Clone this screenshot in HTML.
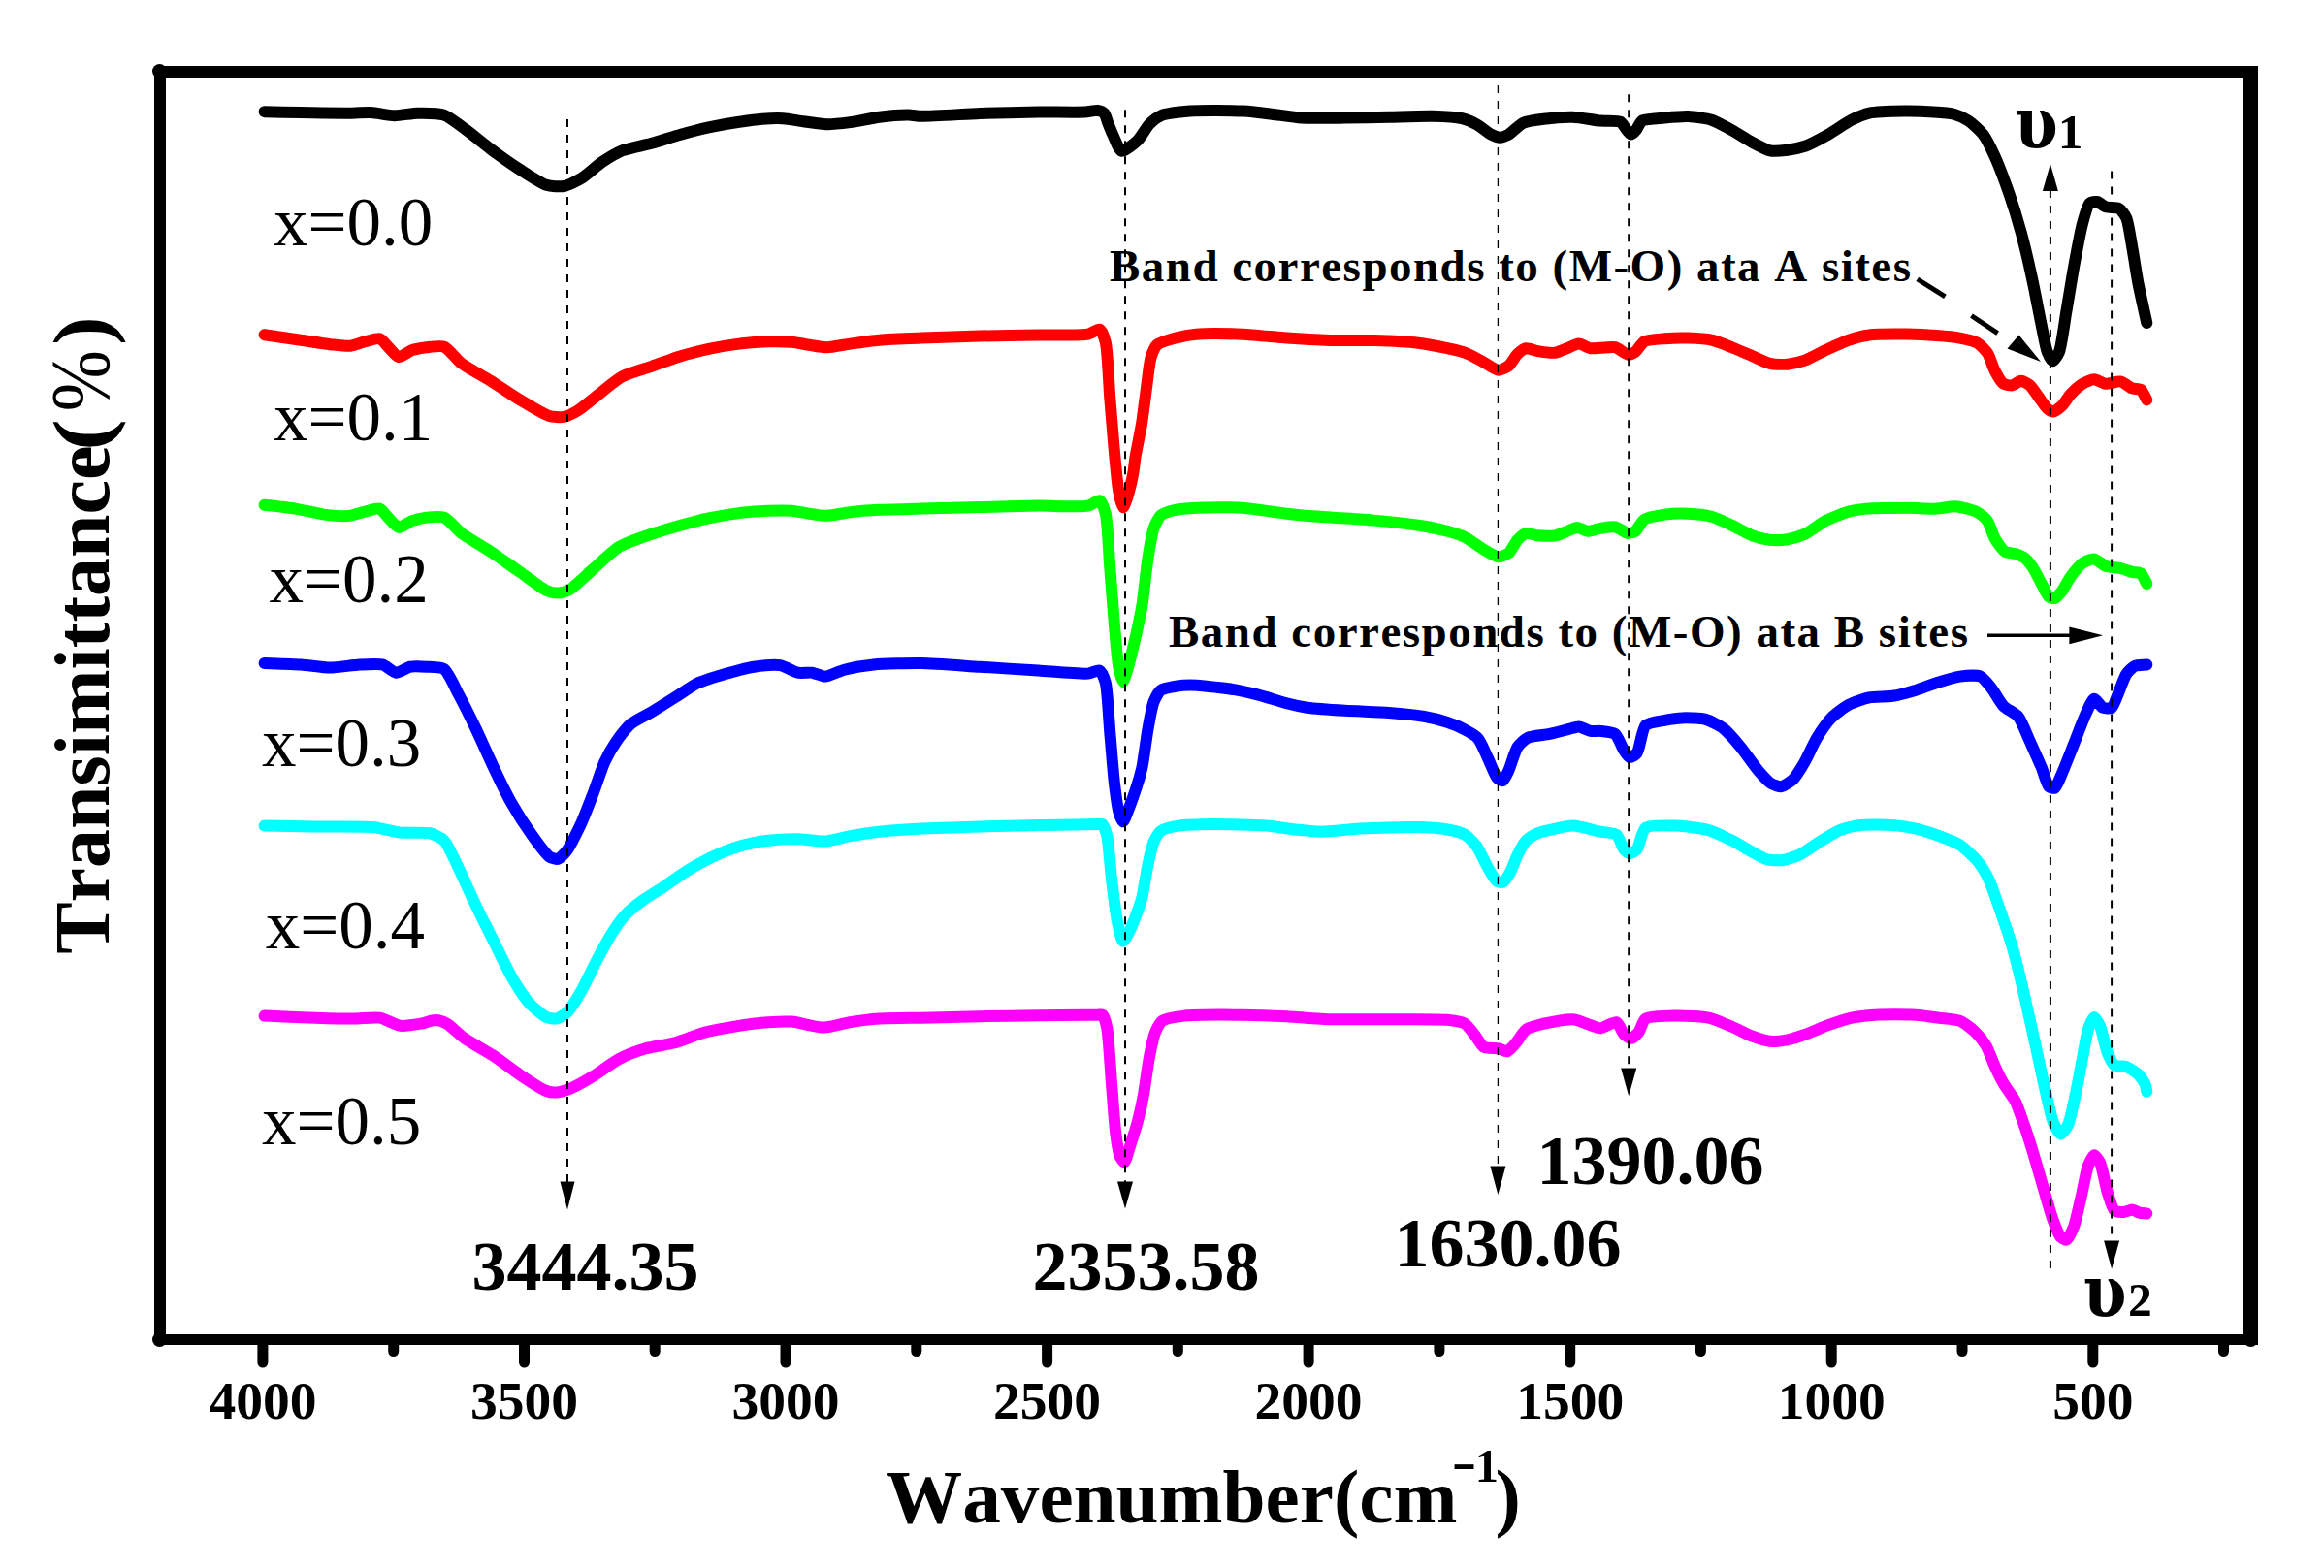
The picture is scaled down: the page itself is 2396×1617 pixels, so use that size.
<!DOCTYPE html>
<html><head><meta charset="utf-8"><title>FTIR</title>
<style>html,body{margin:0;padding:0;background:#fff}svg{display:block}text{font-kerning:none;font-family:"Liberation Serif",serif;fill:#000}.b{font-weight:bold}</style></head><body>
<svg width="2396" height="1617" viewBox="0 0 2396 1617">
<rect width="2396" height="1617" fill="#fff"/>
<g fill="none" stroke-linecap="round" stroke-linejoin="round" stroke-width="12">
<path stroke="#000000" d="M272.6 115.2C280.7 115.4 301.7 115.9 310.2 116.1C319.5 116.3 346.9 116.7 355.4 116.7C362.0 116.7 376.8 115.8 382.5 116.1C387.9 116.4 401.4 119.1 406.6 119.2C411.8 119.3 425.3 116.8 430.7 116.7C436.4 116.6 452.5 116.8 457.8 118.6C462.9 120.3 474.1 129.2 478.9 132.7C484.5 136.7 499.9 149.3 506.0 153.8C512.3 158.5 529.7 170.8 536.1 174.9C542.1 178.7 557.8 189.1 563.3 190.8C567.4 192.1 577.5 192.7 581.3 192.0C585.3 191.3 595.5 186.3 599.4 183.9C604.0 181.1 615.8 170.5 620.5 167.3C625.0 164.3 636.5 157.4 641.6 155.3C647.4 153.0 665.2 149.6 671.7 147.8C678.2 146.0 695.3 140.5 701.8 138.7C708.3 136.9 725.4 132.6 731.9 131.2C738.4 129.8 755.8 126.7 762.0 125.8C767.5 125.0 781.0 123.2 786.1 122.8C790.8 122.4 802.6 121.9 807.2 122.2C811.8 122.5 823.6 124.6 828.3 125.2C833.3 125.9 847.2 128.1 852.4 128.2C857.6 128.3 871.0 126.8 876.5 126.1C882.7 125.3 900.1 121.5 906.6 120.7C913.1 119.9 931.5 118.5 936.7 118.6C940.2 118.6 946.1 119.7 950.0 119.8C958.3 120.0 997.1 117.5 1010.2 117.0C1023.3 116.5 1058.2 115.7 1070.5 115.5C1081.5 115.4 1111.6 115.9 1118.7 115.5C1122.4 115.3 1129.3 113.6 1131.6 113.9C1133.4 114.2 1137.4 115.8 1138.5 117.0C1139.8 118.3 1141.2 124.0 1142.0 126.1C1143.0 128.6 1145.7 135.6 1147.1 138.5C1148.7 142.0 1153.6 155.0 1156.4 155.7C1159.2 156.4 1169.8 147.7 1172.9 144.8C1176.0 141.8 1182.1 131.1 1184.9 128.2C1187.3 125.7 1193.6 120.6 1197.0 119.2C1201.9 117.2 1219.6 115.2 1227.1 114.6C1237.1 113.8 1271.3 114.1 1281.3 114.6C1288.8 115.0 1304.9 116.9 1311.4 117.7C1317.9 118.5 1334.4 121.1 1341.6 121.6C1350.4 122.2 1376.9 121.7 1386.7 121.6C1396.5 121.5 1422.1 120.9 1431.9 120.7C1441.7 120.5 1468.3 119.5 1477.1 119.8C1484.3 120.0 1501.9 121.0 1507.2 122.2C1511.1 123.1 1519.1 126.5 1522.3 128.2C1525.7 130.0 1534.4 137.2 1537.3 138.7C1539.4 139.8 1544.4 141.7 1546.4 141.7C1548.4 141.7 1553.3 139.8 1555.4 138.7C1558.4 137.1 1566.7 128.4 1570.5 126.7C1574.5 124.9 1586.6 123.4 1591.6 122.8C1597.5 122.0 1615.3 120.5 1621.7 120.7C1627.9 120.9 1644.4 124.1 1650.0 124.6C1654.8 125.0 1667.3 124.0 1670.4 125.6C1672.7 126.8 1676.1 133.0 1677.5 134.5C1678.5 135.6 1680.8 138.5 1681.8 138.5C1682.8 138.5 1685.5 135.7 1686.5 134.5C1687.9 132.9 1690.8 126.0 1693.1 124.5C1696.4 122.5 1711.2 122.1 1716.3 121.6C1721.5 121.1 1735.2 119.9 1740.4 120.1C1745.6 120.3 1759.6 122.1 1764.5 123.7C1769.3 125.2 1781.0 131.7 1785.5 134.2C1790.1 136.7 1802.1 144.5 1806.6 146.9C1810.6 149.0 1820.7 154.5 1824.7 155.3C1828.5 156.1 1838.9 155.2 1842.8 154.7C1846.7 154.2 1856.7 152.2 1860.8 150.8C1865.7 149.1 1879.7 141.6 1884.9 138.7C1890.2 135.7 1904.0 126.2 1909.0 123.7C1913.1 121.7 1922.4 117.7 1927.1 116.7C1933.5 115.3 1955.8 114.7 1963.3 114.6C1970.1 114.5 1987.5 115.1 1993.4 115.5C1998.4 115.8 2010.4 116.6 2014.5 117.7C2018.1 118.7 2026.4 122.5 2029.5 124.6C2033.0 126.9 2041.8 135.0 2044.6 138.7C2047.7 142.8 2054.0 155.6 2056.6 161.3C2059.9 168.5 2068.7 192.0 2071.7 200.5C2074.6 208.9 2081.2 230.5 2083.7 239.6C2086.5 249.9 2093.5 280.0 2095.8 290.8C2098.0 300.9 2103.0 327.5 2104.8 336.0C2106.2 342.6 2109.1 358.9 2110.8 363.1C2111.8 365.7 2115.0 372.1 2116.3 372.2C2117.6 372.3 2121.7 366.0 2122.9 363.1C2125.3 357.5 2128.8 330.3 2130.4 321.0C2132.1 311.4 2136.2 285.6 2138.0 275.8C2139.8 266.0 2144.8 238.5 2147.0 230.6C2148.5 225.1 2152.1 211.5 2154.5 209.5C2155.9 208.3 2160.4 207.7 2162.0 208.0C2163.9 208.3 2168.8 212.6 2171.1 213.4C2173.7 214.3 2182.3 213.6 2184.6 214.9C2186.8 216.1 2190.9 221.7 2192.2 224.6C2194.3 229.2 2197.0 247.9 2198.2 254.7C2199.6 262.2 2202.7 282.7 2204.2 290.8C2205.9 299.6 2211.3 323.9 2213.3 333.0"/>
<path stroke="#ff0000" d="M272.6 345.2C280.7 346.4 302.5 349.6 310.2 350.7C317.1 351.7 334.4 354.5 340.4 355.2C345.4 355.7 357.3 357.2 361.4 356.7C365.0 356.3 373.2 353.0 376.5 352.2C379.8 351.4 388.9 348.4 391.6 349.2C394.0 349.9 398.6 356.2 400.6 358.2C402.8 360.3 408.5 367.7 411.1 368.1C413.7 368.5 421.6 362.3 424.7 361.2C427.8 360.1 436.4 358.6 439.8 358.2C443.5 357.8 454.2 356.2 457.8 357.6C462.1 359.2 471.3 371.3 475.9 374.8C481.4 379.0 499.5 388.8 506.0 392.8C512.6 396.9 529.5 408.4 536.1 412.4C542.6 416.3 560.7 427.4 566.3 429.0C570.0 430.1 578.1 430.5 581.3 429.9C584.6 429.3 593.0 425.1 596.4 423.0C600.7 420.4 612.8 410.0 617.5 406.4C622.5 402.5 635.8 391.4 641.6 388.3C647.5 385.1 665.2 380.1 671.7 377.8C678.2 375.5 695.2 369.2 701.8 367.2C708.3 365.3 725.4 361.1 731.9 359.7C738.4 358.3 755.5 355.4 762.0 354.6C768.5 353.8 786.0 352.4 792.2 352.2C797.7 352.1 811.5 352.3 816.3 352.8C820.5 353.2 830.4 355.2 834.3 355.8C838.2 356.4 848.2 358.2 852.4 358.2C857.3 358.2 871.0 355.4 876.5 354.6C882.7 353.7 899.5 351.3 906.6 350.7C915.1 349.9 939.8 349.0 950.0 348.6C962.0 348.1 997.1 346.8 1010.2 346.5C1023.3 346.2 1058.0 345.8 1070.5 345.6C1082.0 345.4 1114.6 346.2 1121.7 344.7C1125.3 343.9 1131.8 338.8 1133.7 339.6C1135.8 340.4 1138.8 349.0 1139.8 353.1C1141.9 361.1 1143.3 398.2 1144.3 410.4C1145.3 422.3 1147.8 453.6 1148.8 464.6C1149.7 474.3 1152.0 499.7 1153.3 506.7C1154.1 511.2 1156.7 523.2 1157.8 523.3C1158.7 523.4 1161.4 515.6 1162.3 512.8C1163.7 508.5 1167.5 492.3 1168.4 487.4C1169.1 483.6 1169.8 475.5 1170.5 471.4C1171.5 465.2 1176.0 443.7 1177.2 436.0C1178.4 428.2 1181.0 407.5 1182.0 400.0C1183.0 393.0 1184.9 374.2 1186.5 369.0C1187.6 365.4 1190.6 357.7 1193.0 355.5C1195.8 353.0 1207.7 349.8 1212.0 348.6C1216.4 347.4 1227.6 345.2 1233.1 344.7C1241.4 343.9 1271.0 344.3 1281.3 344.7C1291.3 345.1 1316.7 347.9 1326.5 348.6C1336.3 349.3 1361.9 350.7 1371.7 351.0C1381.5 351.3 1407.1 350.7 1416.9 351.0C1426.7 351.3 1453.2 352.6 1462.0 353.7C1469.2 354.6 1486.5 358.0 1492.2 359.2C1496.6 360.2 1506.4 362.3 1510.2 363.7C1514.2 365.2 1524.5 370.7 1528.3 372.7C1532.0 374.6 1541.7 381.6 1544.9 381.7C1547.4 381.8 1553.4 378.8 1555.4 377.2C1557.7 375.4 1562.4 367.2 1564.5 365.2C1566.3 363.5 1571.3 359.6 1573.5 359.2C1575.8 358.8 1582.6 361.7 1585.5 362.2C1589.0 362.8 1600.1 364.2 1603.6 363.7C1606.5 363.3 1613.1 360.2 1615.7 359.2C1618.3 358.2 1625.1 354.6 1627.7 354.6C1630.3 354.6 1637.2 358.8 1639.8 359.2C1642.1 359.6 1647.6 358.9 1650.0 358.8C1653.0 358.7 1662.0 357.5 1665.1 358.2C1668.2 358.9 1676.1 365.5 1678.6 365.7C1680.4 365.8 1684.5 363.8 1686.1 362.7C1688.2 361.2 1692.5 353.7 1695.2 352.2C1698.6 350.4 1711.6 349.6 1716.3 349.2C1721.3 348.8 1735.2 348.4 1740.4 348.6C1745.6 348.8 1759.5 349.6 1764.5 350.7C1769.3 351.7 1781.0 356.4 1785.5 358.2C1790.1 360.0 1802.2 365.3 1806.6 367.2C1810.7 368.9 1820.7 373.9 1824.7 374.8C1828.5 375.7 1838.9 376.0 1842.8 375.7C1846.7 375.4 1856.8 373.1 1860.8 371.7C1865.3 370.1 1877.1 363.4 1881.9 361.2C1886.9 358.9 1900.9 352.4 1906.0 350.7C1910.7 349.1 1921.8 346.2 1927.1 345.5C1934.2 344.5 1958.4 344.5 1966.3 344.6C1973.3 344.7 1990.2 345.6 1996.4 346.1C2001.9 346.5 2015.7 347.7 2020.5 348.6C2024.7 349.4 2035.4 351.8 2038.6 353.7C2041.4 355.4 2047.2 361.4 2049.1 364.2C2051.3 367.4 2054.7 378.8 2056.6 382.3C2058.3 385.5 2063.4 394.3 2065.7 395.8C2067.4 396.9 2072.8 397.6 2074.7 397.3C2076.7 397.0 2081.7 392.8 2083.7 392.8C2085.7 392.8 2091.0 395.8 2092.8 397.3C2095.0 399.1 2099.8 406.8 2101.8 409.4C2103.7 412.0 2108.8 419.8 2110.8 421.4C2112.1 422.5 2115.5 424.6 2116.9 424.5C2118.7 424.4 2124.1 420.1 2125.9 418.4C2128.0 416.4 2132.7 408.8 2134.9 406.4C2137.2 403.9 2144.2 397.5 2147.0 395.8C2149.5 394.3 2156.4 391.3 2159.0 391.3C2161.6 391.3 2168.3 395.5 2171.1 395.8C2174.1 396.1 2183.1 392.8 2186.1 393.4C2189.0 393.9 2195.7 399.5 2198.2 400.4C2200.2 401.1 2205.6 400.8 2207.2 401.9C2209.0 403.2 2212.0 410.1 2213.3 412.4"/>
<path stroke="#00ff00" d="M272.6 520.7C279.4 521.5 297.5 523.5 304.2 524.6C310.8 525.7 328.1 529.8 334.3 530.6C339.8 531.3 353.6 532.5 358.4 532.1C362.6 531.7 372.7 528.4 376.5 527.6C379.9 526.8 388.9 523.7 391.6 524.6C394.1 525.4 398.5 532.2 400.6 534.2C402.8 536.3 408.5 543.5 411.1 543.9C413.7 544.3 421.6 538.3 424.7 537.2C427.8 536.1 436.4 534.0 439.8 533.6C443.5 533.2 454.1 532.2 457.8 533.6C462.1 535.2 471.3 546.4 475.9 549.9C481.4 554.1 499.5 564.6 506.0 568.9C512.6 573.3 529.7 585.5 536.1 589.9C542.1 594.1 558.4 606.7 563.3 608.9C566.3 610.2 572.7 611.7 575.3 611.6C577.9 611.5 584.4 609.6 587.3 608.0C591.9 605.5 606.0 591.6 611.4 586.9C617.1 582.0 632.1 567.6 638.6 563.7C645.1 559.8 664.7 553.2 671.7 550.8C678.3 548.5 695.3 543.5 701.8 541.7C708.3 539.9 725.4 535.6 731.9 534.2C738.4 532.8 755.5 529.9 762.0 529.1C768.5 528.3 786.0 526.9 792.2 526.7C797.7 526.5 811.5 526.3 816.3 526.7C820.5 527.0 830.4 529.1 834.3 529.7C838.2 530.3 848.2 531.9 852.4 531.8C857.3 531.7 871.0 528.8 876.5 528.2C882.6 527.5 899.5 526.2 906.6 525.8C915.1 525.3 939.8 524.9 950.0 524.6C962.0 524.3 997.2 523.4 1010.2 523.1C1023.3 522.8 1058.0 521.8 1070.5 521.6C1082.0 521.5 1114.6 523.2 1121.7 521.6C1125.3 520.8 1131.8 515.4 1133.7 516.1C1135.8 516.9 1138.8 525.6 1139.8 529.7C1141.8 537.6 1143.3 573.2 1144.3 585.4C1145.3 597.7 1147.8 631.0 1148.8 642.7C1149.7 653.1 1151.9 680.7 1153.3 687.8C1154.1 692.0 1156.8 702.9 1157.8 702.9C1158.7 702.9 1161.3 694.0 1162.3 690.8C1163.9 685.8 1168.3 667.5 1169.9 660.7C1171.6 653.3 1176.0 633.0 1177.4 624.6C1179.0 614.9 1181.9 585.7 1183.4 576.4C1184.6 568.8 1187.6 550.1 1189.5 544.8C1190.8 541.1 1194.6 533.3 1197.0 531.2C1199.4 529.1 1208.4 526.6 1212.0 525.8C1216.1 524.9 1227.6 524.0 1233.1 523.7C1241.4 523.3 1271.0 523.0 1281.3 523.7C1291.3 524.4 1316.7 528.6 1326.5 529.7C1336.3 530.8 1361.9 532.9 1371.7 533.6C1381.5 534.3 1407.1 535.7 1416.9 536.6C1426.7 537.5 1453.2 540.3 1462.0 541.7C1469.2 542.8 1486.5 546.3 1492.2 547.8C1496.6 549.0 1506.4 552.0 1510.2 553.8C1514.3 555.8 1524.4 563.5 1528.3 565.8C1531.9 567.9 1541.7 574.1 1544.9 574.3C1547.4 574.4 1553.4 572.0 1555.4 570.4C1557.8 568.5 1562.3 559.1 1564.5 556.8C1566.3 554.9 1571.3 550.4 1573.5 549.9C1575.8 549.4 1582.6 552.0 1585.5 552.3C1589.0 552.6 1600.1 552.9 1603.6 552.3C1606.5 551.8 1613.2 548.7 1615.7 547.8C1618.1 546.9 1623.9 543.9 1626.2 543.9C1628.5 543.9 1634.3 547.6 1636.7 547.8C1639.4 548.0 1647.0 545.3 1650.0 544.8C1653.2 544.3 1662.0 542.7 1665.1 543.3C1668.2 543.9 1676.1 549.7 1678.6 549.9C1680.4 550.1 1684.6 548.9 1686.1 547.8C1688.2 546.3 1692.4 537.5 1695.2 535.7C1698.6 533.5 1711.5 531.3 1716.3 530.6C1721.3 529.9 1735.2 529.5 1740.4 529.7C1745.6 529.9 1759.5 531.4 1764.5 532.7C1769.3 534.0 1781.0 539.6 1785.5 541.7C1790.1 543.8 1802.1 550.6 1806.6 552.3C1810.6 553.8 1820.7 556.4 1824.7 556.8C1828.6 557.2 1838.9 556.8 1842.8 556.2C1846.7 555.6 1856.9 552.6 1860.8 550.8C1865.3 548.7 1877.0 539.7 1881.9 537.2C1886.8 534.7 1900.7 529.0 1906.0 527.6C1911.1 526.2 1924.3 524.7 1930.1 524.3C1937.1 523.8 1958.8 523.7 1966.3 523.7C1973.1 523.7 1990.6 524.9 1996.4 524.6C2001.1 524.4 2011.6 521.9 2016.0 522.2C2020.8 522.5 2034.8 526.2 2038.6 528.2C2041.5 529.7 2047.2 534.6 2049.1 537.2C2051.3 540.3 2054.6 551.8 2056.6 555.3C2058.5 558.6 2064.6 567.3 2067.2 568.9C2069.3 570.2 2075.5 570.3 2077.7 571.0C2079.8 571.6 2084.9 573.6 2086.7 574.9C2088.9 576.5 2094.0 582.8 2095.8 585.4C2097.9 588.5 2102.9 598.6 2104.8 602.0C2106.5 605.1 2110.4 614.0 2112.3 615.5C2113.5 616.4 2117.1 617.4 2118.4 617.0C2120.1 616.5 2124.3 611.5 2125.9 609.5C2127.9 606.9 2132.6 597.6 2134.9 594.5C2137.2 591.4 2144.1 582.9 2147.0 580.9C2149.4 579.2 2156.5 576.1 2159.0 576.4C2161.7 576.7 2168.2 582.9 2171.1 583.9C2174.1 585.0 2183.1 585.3 2186.1 586.0C2188.9 586.6 2195.8 589.3 2198.2 589.9C2200.3 590.4 2205.6 590.3 2207.2 591.4C2209.0 592.7 2212.0 599.7 2213.3 602.0"/>
<path stroke="#0000ff" d="M272.6 684.0C280.7 684.3 302.5 685.0 310.2 685.5C317.1 686.0 333.9 688.6 340.4 688.6C346.9 688.6 364.3 685.8 370.5 685.5C376.0 685.2 390.3 684.3 394.6 685.5C398.1 686.5 405.0 693.4 408.1 693.7C411.2 694.0 419.8 688.4 423.2 687.7C426.7 687.0 436.1 687.5 439.8 687.7C443.6 688.0 454.5 687.9 457.8 690.1C462.1 693.0 469.6 710.1 472.9 716.3C476.7 723.4 487.2 744.4 491.0 752.4C495.0 760.7 505.0 783.3 509.0 791.6C512.8 799.6 522.8 820.2 527.1 827.7C531.3 835.1 543.6 854.4 548.2 860.8C552.1 866.3 562.7 881.0 566.3 883.4C568.3 884.7 573.5 886.3 575.3 885.8C577.4 885.3 582.3 880.0 584.3 877.4C587.5 873.2 596.5 855.2 599.4 848.8C602.3 842.4 608.8 825.4 611.4 818.7C614.1 811.7 620.6 791.8 623.5 785.5C625.9 780.3 632.5 768.8 635.5 764.5C638.4 760.3 646.7 749.7 650.6 746.4C654.5 743.1 667.0 737.1 671.7 734.3C676.8 731.3 690.6 722.6 695.8 719.3C701.0 716.0 714.4 706.8 719.9 704.2C725.5 701.6 740.9 697.0 747.0 695.2C753.3 693.4 770.7 688.7 777.1 687.7C783.1 686.8 799.0 685.2 804.2 686.1C808.6 686.9 818.5 692.9 822.3 693.7C825.6 694.4 834.2 693.3 837.3 693.7C840.3 694.1 847.7 697.7 850.9 697.6C854.8 697.5 865.7 691.9 870.5 690.7C876.3 689.2 893.2 686.2 900.6 685.5C910.0 684.6 938.8 683.8 950.0 684.0C962.4 684.2 997.2 686.9 1010.2 687.7C1023.3 688.5 1058.0 690.8 1070.5 691.6C1082.0 692.3 1114.5 695.3 1121.7 694.6C1125.2 694.3 1131.8 690.7 1133.7 691.6C1135.8 692.6 1138.8 700.4 1139.8 704.2C1141.8 711.4 1143.3 744.3 1144.3 755.4C1145.3 766.5 1147.7 797.0 1148.8 806.6C1149.7 814.0 1151.9 831.9 1153.3 836.7C1154.1 839.6 1156.7 847.3 1157.8 847.3C1159.0 847.3 1162.6 837.0 1163.9 833.7C1165.5 829.7 1169.9 817.3 1171.4 812.7C1172.9 808.2 1176.2 796.9 1177.4 791.6C1179.0 784.5 1182.0 760.2 1183.4 752.4C1184.6 745.7 1187.6 728.6 1189.5 723.8C1190.8 720.5 1194.6 713.4 1197.0 711.7C1199.5 709.9 1208.7 708.4 1212.0 707.8C1215.2 707.3 1223.1 706.6 1227.1 706.6C1233.6 706.6 1258.4 709.0 1266.3 710.2C1273.3 711.2 1289.9 714.7 1296.4 716.3C1303.0 717.9 1320.5 723.8 1326.5 725.3C1331.4 726.6 1342.3 729.0 1347.6 729.8C1354.7 730.8 1377.9 732.3 1386.7 732.8C1396.1 733.4 1422.7 734.2 1431.9 734.9C1440.2 735.5 1461.1 737.6 1468.1 738.9C1473.9 739.9 1487.4 743.3 1492.2 744.9C1496.4 746.3 1506.7 750.5 1510.2 752.4C1513.4 754.1 1521.3 758.6 1523.8 761.4C1526.8 764.8 1532.1 778.0 1534.3 782.5C1536.4 786.8 1541.2 799.8 1543.4 802.1C1544.6 803.4 1548.2 805.5 1549.4 805.1C1551.0 804.6 1554.1 797.4 1555.4 794.6C1557.3 790.5 1561.9 774.3 1564.5 770.5C1566.4 767.6 1572.0 762.3 1575.0 760.8C1578.8 758.9 1593.0 757.9 1597.6 756.9C1601.8 756.0 1612.2 753.3 1615.7 752.4C1618.6 751.7 1625.1 749.3 1627.7 749.4C1630.3 749.5 1637.3 753.4 1639.8 753.9C1642.1 754.3 1647.6 753.7 1650.0 753.9C1653.0 754.2 1662.5 755.0 1665.1 756.9C1667.9 759.0 1672.2 770.7 1674.1 773.5C1675.4 775.5 1678.6 780.7 1680.1 781.0C1681.6 781.3 1686.3 778.3 1687.7 776.5C1690.4 773.2 1693.0 751.4 1696.7 747.9C1699.8 745.0 1712.1 743.6 1716.3 742.8C1720.3 742.0 1730.1 740.5 1734.3 740.4C1739.1 740.2 1753.7 740.6 1758.4 741.9C1762.7 743.1 1772.8 748.1 1776.5 750.9C1780.7 754.1 1790.8 765.9 1794.6 770.5C1798.6 775.4 1808.9 790.2 1812.7 794.6C1815.7 798.1 1823.2 806.4 1826.2 808.1C1828.4 809.4 1834.4 811.4 1836.7 811.1C1839.3 810.7 1846.4 805.9 1848.8 803.6C1851.8 800.7 1858.3 789.8 1860.8 785.5C1863.6 780.7 1869.9 766.3 1872.9 761.4C1875.8 756.6 1884.3 744.2 1888.0 740.4C1891.5 736.8 1901.8 729.1 1906.0 726.8C1910.2 724.5 1922.3 720.3 1927.1 719.3C1932.1 718.3 1946.0 718.6 1951.2 717.8C1956.5 717.0 1970.3 713.2 1975.3 711.7C1980.1 710.3 1991.6 705.7 1996.4 704.2C2001.4 702.6 2015.4 698.3 2020.5 697.6C2025.2 697.0 2037.9 696.0 2041.6 697.6C2044.9 699.0 2051.1 707.1 2053.6 710.2C2056.4 713.7 2062.6 725.1 2065.7 728.3C2068.5 731.2 2078.0 735.6 2080.7 738.9C2084.1 743.0 2090.2 758.9 2092.8 764.5C2095.4 770.3 2102.6 786.2 2104.8 791.6C2106.7 796.1 2110.2 809.2 2112.3 811.1C2113.5 812.1 2117.2 813.2 2118.4 812.7C2120.4 811.8 2124.2 801.5 2125.9 797.6C2128.3 792.2 2135.4 774.0 2138.0 767.5C2140.6 761.0 2147.4 742.8 2150.0 737.3C2152.0 733.1 2156.8 721.1 2159.0 720.8C2160.8 720.5 2165.9 728.9 2168.1 729.8C2169.9 730.5 2175.5 730.8 2177.1 729.8C2179.4 728.3 2183.0 717.0 2184.6 713.3C2186.3 709.5 2190.1 698.2 2192.2 695.2C2193.9 692.8 2198.9 687.7 2201.2 686.7C2203.5 685.7 2210.7 685.8 2213.3 685.5"/>
<path stroke="#00ffff" d="M272.6 851.6C284.0 851.8 313.5 852.3 325.3 852.5C337.9 852.7 375.1 852.0 385.5 853.1C392.6 853.8 406.6 857.9 412.7 858.6C419.0 859.3 437.5 857.9 442.8 859.2C446.7 860.2 454.9 863.9 457.8 866.7C461.8 870.6 469.6 888.6 472.9 895.3C476.7 903.1 487.0 926.2 491.0 934.5C494.8 942.5 505.1 962.8 509.0 970.6C512.9 978.4 522.9 999.5 527.1 1006.7C530.8 1013.1 540.9 1029.1 545.2 1033.9C548.8 1038.0 559.7 1047.3 563.3 1048.9C565.7 1050.0 571.6 1050.8 573.8 1050.4C576.2 1050.0 582.1 1046.5 584.3 1044.4C587.7 1041.3 596.3 1027.2 599.4 1021.8C602.9 1015.8 611.2 998.0 614.5 991.7C617.7 985.6 626.1 970.0 629.5 964.6C632.6 959.6 640.9 947.5 644.6 943.5C648.1 939.7 658.5 931.5 662.7 928.4C667.0 925.3 679.0 918.0 683.7 914.9C688.8 911.5 702.5 901.6 707.8 898.3C712.9 895.1 726.3 887.5 731.9 884.8C738.0 881.9 755.4 874.7 762.0 872.7C768.4 870.8 785.6 867.5 792.2 866.7C798.7 865.9 816.0 865.1 822.3 865.2C828.3 865.3 843.6 867.9 849.4 867.6C855.3 867.3 870.5 863.3 876.5 862.2C882.8 861.1 899.5 858.5 906.6 857.7C915.1 856.8 939.8 855.1 950.0 854.6C962.0 854.0 997.2 852.9 1010.2 852.5C1023.3 852.1 1058.1 851.2 1070.5 851.0C1081.8 850.8 1112.9 850.4 1120.0 850.3C1123.5 850.2 1130.0 850.1 1132.0 850.1C1133.3 850.1 1135.8 849.5 1136.7 850.1C1138.1 851.1 1140.5 858.7 1141.3 862.2C1142.8 868.5 1144.7 895.0 1145.8 904.3C1147.0 913.9 1150.2 941.6 1151.8 949.5C1152.9 955.0 1156.2 970.3 1157.8 970.6C1159.0 970.8 1162.6 964.0 1163.9 961.6C1165.6 958.4 1169.9 947.4 1171.4 943.5C1172.9 939.6 1176.2 930.0 1177.4 925.4C1178.9 919.3 1182.0 898.9 1183.4 892.3C1184.6 886.6 1187.7 872.3 1189.5 868.2C1190.9 865.1 1194.6 858.5 1197.0 856.7C1199.8 854.6 1210.5 852.3 1215.1 851.6C1221.5 850.6 1242.6 850.2 1251.2 850.1C1261.8 850.0 1295.4 850.8 1305.4 851.6C1312.9 852.2 1329.1 854.8 1335.5 855.5C1341.5 856.1 1356.3 857.7 1362.7 857.7C1370.4 857.7 1392.4 855.1 1401.8 854.6C1413.4 854.0 1451.2 852.8 1462.0 853.1C1469.7 853.3 1486.5 854.5 1492.2 855.5C1496.6 856.3 1506.9 858.8 1510.2 860.7C1513.4 862.6 1519.9 869.5 1522.3 872.7C1525.2 876.7 1531.8 891.1 1534.3 895.3C1536.3 898.7 1541.3 907.6 1543.4 908.9C1544.7 909.7 1548.2 910.3 1549.4 909.8C1551.2 909.1 1555.4 902.4 1556.9 899.8C1558.8 896.5 1562.6 885.4 1564.5 881.7C1566.3 878.2 1571.1 869.2 1573.5 866.7C1575.7 864.5 1582.5 860.5 1585.5 859.2C1588.9 857.7 1599.7 855.4 1603.6 854.6C1607.5 853.8 1617.4 851.5 1621.7 851.6C1627.2 851.7 1644.7 856.6 1650.0 857.7C1654.1 858.5 1664.0 858.7 1666.6 860.7C1669.2 862.7 1672.3 873.5 1674.1 875.7C1675.3 877.2 1678.7 880.1 1680.1 880.2C1681.6 880.3 1686.2 877.4 1687.7 875.7C1690.1 872.9 1692.9 856.4 1696.7 853.7C1701.1 850.5 1721.4 851.4 1728.3 851.6C1735.4 851.8 1754.9 854.3 1761.4 856.1C1767.2 857.7 1780.5 864.2 1785.5 866.7C1790.3 869.1 1802.4 876.4 1806.6 878.7C1810.1 880.6 1818.3 885.4 1821.7 886.3C1824.9 887.2 1833.3 887.6 1836.7 887.2C1840.5 886.8 1850.9 883.5 1854.8 881.7C1859.3 879.6 1871.3 871.0 1875.9 868.2C1880.4 865.4 1892.3 858.0 1897.0 856.1C1901.4 854.3 1913.0 851.6 1918.1 851.0C1924.4 850.2 1944.6 850.5 1951.2 851.0C1956.9 851.4 1970.1 853.4 1975.3 854.6C1980.6 855.8 1994.4 860.3 1999.4 862.2C2004.2 864.0 2016.3 868.5 2020.5 871.2C2024.8 874.0 2035.3 883.8 2038.6 887.8C2041.8 891.7 2048.2 902.4 2050.6 907.3C2053.6 913.4 2060.1 933.1 2062.7 940.5C2065.4 948.1 2072.3 968.2 2074.7 976.6C2077.5 986.2 2084.2 1014.0 2086.7 1024.8C2089.4 1036.2 2096.3 1067.6 2098.8 1079.0C2101.2 1089.7 2107.1 1118.0 2109.3 1127.2C2111.0 1134.5 2114.8 1152.4 2116.9 1157.3C2118.3 1160.6 2122.7 1169.3 2124.4 1169.4C2126.0 1169.5 2130.5 1163.1 2131.9 1160.4C2134.2 1155.9 2138.0 1137.2 2139.5 1130.2C2141.3 1122.3 2145.5 1099.0 2147.0 1091.1C2148.4 1084.1 2151.3 1066.0 2153.0 1061.0C2154.1 1057.7 2157.6 1049.0 2159.0 1048.9C2160.3 1048.8 2163.9 1055.4 2165.1 1058.0C2167.0 1062.2 2170.6 1080.3 2172.6 1085.1C2174.0 1088.6 2177.8 1097.0 2180.1 1098.6C2182.2 1100.0 2189.7 1099.2 2192.2 1100.1C2194.9 1101.1 2202.1 1105.7 2204.2 1107.7C2206.2 1109.6 2210.7 1116.0 2211.7 1118.2C2212.4 1119.9 2213.0 1124.1 2213.3 1125.7"/>
<path stroke="#ff00ff" d="M272.6 1047.6C284.0 1048.1 314.7 1049.4 325.3 1049.7C334.4 1050.0 356.8 1050.6 364.5 1050.6C370.9 1050.6 386.2 1048.8 391.6 1049.7C396.5 1050.5 408.1 1057.2 412.7 1057.8C417.2 1058.4 429.5 1056.4 433.7 1055.7C437.3 1055.1 445.7 1052.0 448.8 1052.1C451.6 1052.2 458.1 1054.2 460.8 1055.7C464.5 1057.7 474.3 1067.6 478.9 1070.8C484.5 1074.8 502.7 1084.8 509.0 1088.9C515.1 1092.9 530.1 1104.4 536.1 1108.4C541.9 1112.3 558.6 1123.3 563.3 1125.0C566.0 1126.0 571.4 1126.6 573.8 1126.5C576.6 1126.3 584.0 1124.2 587.3 1122.9C591.9 1121.1 606.1 1113.1 611.4 1109.9C617.2 1106.4 632.5 1095.0 638.6 1091.9C644.3 1088.9 659.6 1083.1 665.7 1081.3C672.0 1079.5 689.3 1077.1 695.8 1075.3C702.4 1073.5 719.0 1066.7 725.9 1064.8C733.3 1062.8 754.5 1059.0 762.0 1057.8C768.8 1056.7 786.0 1054.6 792.2 1054.2C797.7 1053.8 810.7 1053.2 816.3 1053.6C822.9 1054.1 842.6 1059.7 849.4 1059.6C855.6 1059.5 870.5 1055.2 876.5 1054.2C882.8 1053.2 899.5 1051.1 906.6 1050.6C915.1 1050.0 939.8 1049.9 950.0 1049.7C962.0 1049.4 997.2 1048.5 1010.2 1048.2C1023.3 1047.9 1058.1 1047.5 1070.5 1047.3C1081.8 1047.2 1112.9 1046.9 1120.0 1046.8C1123.5 1046.8 1130.0 1046.7 1132.0 1046.7C1133.3 1046.7 1135.8 1046.1 1136.7 1046.7C1138.2 1047.8 1140.5 1056.2 1141.3 1060.2C1142.9 1068.0 1144.8 1102.7 1145.8 1114.5C1146.8 1126.2 1149.0 1159.3 1150.3 1168.7C1151.1 1175.0 1153.3 1189.6 1154.8 1192.8C1155.6 1194.5 1158.4 1198.4 1159.3 1198.2C1160.8 1197.9 1164.0 1184.8 1165.4 1180.7C1167.0 1175.9 1171.5 1162.0 1172.9 1156.6C1174.4 1150.9 1177.7 1135.9 1178.9 1129.5C1180.3 1121.8 1183.4 1098.0 1184.9 1090.4C1186.1 1084.2 1189.2 1069.2 1191.0 1064.8C1192.3 1061.6 1195.9 1054.6 1198.5 1052.7C1201.8 1050.3 1215.0 1048.3 1221.1 1047.6C1231.0 1046.4 1269.2 1046.6 1281.3 1046.7C1291.8 1046.8 1316.7 1047.7 1326.5 1048.2C1336.3 1048.7 1361.2 1050.9 1371.7 1051.2C1383.8 1051.6 1418.9 1051.1 1431.9 1051.2C1445.0 1051.3 1483.0 1050.8 1492.2 1051.8C1497.3 1052.4 1507.0 1053.8 1510.2 1055.7C1513.1 1057.4 1518.6 1065.1 1520.8 1067.8C1522.9 1070.4 1527.2 1078.3 1529.8 1079.8C1532.4 1081.3 1542.1 1080.7 1544.9 1081.3C1547.1 1081.8 1552.1 1084.7 1553.9 1084.3C1556.0 1083.8 1561.0 1077.5 1563.0 1075.3C1565.3 1072.7 1570.5 1063.8 1573.5 1061.7C1576.6 1059.5 1587.1 1056.8 1591.6 1055.7C1597.2 1054.4 1616.1 1050.7 1621.7 1051.2C1626.2 1051.6 1636.4 1056.1 1639.8 1057.2C1642.3 1058.0 1647.5 1060.3 1650.0 1060.2C1653.2 1060.1 1663.9 1053.3 1666.6 1054.2C1669.0 1055.0 1672.2 1064.5 1674.1 1066.3C1675.6 1067.7 1680.0 1070.9 1681.6 1070.8C1683.3 1070.7 1687.7 1066.6 1689.2 1064.8C1691.1 1062.5 1693.7 1052.6 1696.7 1050.6C1700.9 1047.8 1721.4 1047.7 1728.3 1047.6C1735.4 1047.5 1754.9 1048.3 1761.4 1049.7C1767.1 1050.9 1780.5 1056.6 1785.5 1058.7C1790.3 1060.7 1802.1 1067.0 1806.6 1068.7C1810.6 1070.2 1820.7 1073.4 1824.7 1073.8C1828.6 1074.2 1838.9 1073.0 1842.8 1072.3C1846.7 1071.6 1856.7 1068.4 1860.8 1066.9C1865.7 1065.2 1879.6 1059.1 1884.9 1057.2C1890.1 1055.4 1903.7 1050.8 1909.0 1049.7C1914.2 1048.6 1927.1 1047.1 1933.1 1046.7C1941.0 1046.2 1967.4 1046.2 1975.3 1046.7C1981.3 1047.1 1994.4 1049.0 1999.4 1049.7C2004.1 1050.3 2016.5 1051.1 2020.5 1052.7C2024.2 1054.2 2032.6 1060.6 2035.5 1063.3C2038.5 1066.1 2045.4 1074.6 2047.6 1078.3C2050.0 1082.3 2054.6 1095.0 2056.6 1099.4C2058.5 1103.5 2063.5 1113.7 2065.7 1117.5C2068.0 1121.5 2075.5 1131.2 2077.7 1135.5C2080.1 1140.2 2084.7 1153.9 2086.7 1159.6C2089.0 1166.2 2095.1 1185.4 2097.3 1192.8C2099.6 1200.4 2105.6 1221.4 2107.8 1228.9C2109.8 1235.7 2114.8 1253.5 2116.9 1259.0C2118.5 1263.2 2122.5 1273.6 2124.4 1275.6C2125.6 1276.8 2129.2 1279.0 2130.4 1278.6C2132.2 1278.0 2136.6 1268.7 2138.0 1265.1C2140.0 1260.0 2143.9 1241.6 2145.5 1234.9C2147.2 1227.9 2151.0 1206.9 2153.0 1201.8C2154.2 1198.8 2157.6 1191.4 2159.0 1191.3C2160.2 1191.2 2163.9 1196.5 2165.1 1198.8C2167.2 1203.0 2170.8 1223.1 2172.6 1228.9C2174.1 1233.7 2177.7 1246.5 2180.1 1248.5C2181.7 1249.8 2187.2 1250.1 2189.2 1250.0C2191.2 1249.9 2196.4 1247.5 2198.2 1247.6C2199.9 1247.7 2204.0 1250.2 2205.7 1250.6C2207.3 1251.0 2211.7 1251.3 2213.3 1251.5"/>
</g>
<g fill="#000">
<rect x="159" y="68" width="12" height="1319"/>
<rect x="159" y="68" width="2169" height="12"/>
<rect x="2313" y="68" width="15" height="1319"/>
<rect x="159" y="1376" width="2169" height="11"/>
<circle cx="164.5" cy="73.5" r="7.5"/><circle cx="164.5" cy="1381.5" r="7.5"/><circle cx="2320.5" cy="1381.5" r="7.5"/>
</g>
<g stroke="#000" stroke-width="11" stroke-linecap="round">
<line x1="2157.8" y1="1382" x2="2157.8" y2="1405"/>
<line x1="1888.2" y1="1382" x2="1888.2" y2="1405"/>
<line x1="1618.7" y1="1382" x2="1618.7" y2="1405"/>
<line x1="1349.1" y1="1382" x2="1349.1" y2="1405"/>
<line x1="1079.6" y1="1382" x2="1079.6" y2="1405"/>
<line x1="810.0" y1="1382" x2="810.0" y2="1405"/>
<line x1="540.5" y1="1382" x2="540.5" y2="1405"/>
<line x1="270.9" y1="1382" x2="270.9" y2="1405"/>
<line x1="2292.5" y1="1382" x2="2292.5" y2="1393.5"/>
<line x1="2023.0" y1="1382" x2="2023.0" y2="1393.5"/>
<line x1="1753.4" y1="1382" x2="1753.4" y2="1393.5"/>
<line x1="1483.9" y1="1382" x2="1483.9" y2="1393.5"/>
<line x1="1214.3" y1="1382" x2="1214.3" y2="1393.5"/>
<line x1="944.8" y1="1382" x2="944.8" y2="1393.5"/>
<line x1="675.2" y1="1382" x2="675.2" y2="1393.5"/>
<line x1="405.7" y1="1382" x2="405.7" y2="1393.5"/>
</g>
<g class="b" font-size="55.5" text-anchor="middle">
<text x="2157.8" y="1462.7">500</text>
<text x="1888.2" y="1462.7">1000</text>
<text x="1618.7" y="1462.7">1500</text>
<text x="1349.1" y="1462.7">2000</text>
<text x="1079.6" y="1462.7">2500</text>
<text x="810.0" y="1462.7">3000</text>
<text x="540.5" y="1462.7">3500</text>
<text x="270.9" y="1462.7">4000</text>
</g>
<line x1="585.0" y1="123.0" x2="585.0" y2="1220.0" stroke="#000" stroke-width="2" stroke-dasharray="8 8"/>
<polygon points="577.5,1218.4 592.5,1218.4 585.0,1247.6" fill="#000"/>
<line x1="1160.0" y1="113.2" x2="1160.0" y2="1220.0" stroke="#000" stroke-width="2" stroke-dasharray="8 8"/>
<polygon points="1152.0,1218.4 1168.0,1218.4 1160.0,1246.4" fill="#000"/>
<line x1="1544.4" y1="87.9" x2="1544.4" y2="1204.0" stroke="#000" stroke-width="1.3" stroke-dasharray="8 8"/>
<polygon points="1536.4,1202.4 1552.4,1202.4 1544.4,1231.9" fill="#000"/>
<line x1="1679.2" y1="97.2" x2="1679.2" y2="1103.0" stroke="#000" stroke-width="2" stroke-dasharray="8 8"/>
<polygon points="1671.2,1101.6 1687.2,1101.6 1679.2,1130.2" fill="#000"/>
<line x1="2113.9" y1="196.0" x2="2113.9" y2="1310.0" stroke="#000" stroke-width="2" stroke-dasharray="8 8"/>
<polygon points="2105.9,196.9 2121.9,196.9 2113.9,168.9" fill="#000"/>
<line x1="2177.1" y1="176.4" x2="2177.1" y2="1281.0" stroke="#000" stroke-width="2" stroke-dasharray="8 8"/>
<polygon points="2169.1,1279.5 2185.1,1279.5 2177.1,1308.7" fill="#000"/>
<g stroke="#000" stroke-width="5" stroke-linecap="butt"><line x1="1976.8" y1="287.8" x2="2005.4" y2="305.9"/><line x1="2032.5" y1="325.5" x2="2059.6" y2="343.6"/></g>
<polygon points="2104,373 2069.5,359.5 2081.5,345.5" fill="#000"/>
<line x1="2049" y1="655.3" x2="2136" y2="655.3" stroke="#000" stroke-width="3.6"/>
<polygon points="2168.1,655.3 2133.4,646.4 2133.4,664.2" fill="#000"/>
<g font-size="71">
<text x="282.0" y="253.0">x=0.0</text>
<text x="282.0" y="453.7">x=0.1</text>
<text x="277.5" y="620.7">x=0.2</text>
<text x="270.0" y="789.7">x=0.3</text>
<text x="273.7" y="977.5">x=0.4</text>
<text x="270.0" y="1180.3">x=0.5</text>
</g>
<g class="b" font-size="72">
<text x="486.5" y="1330.0">3444.35</text>
<text x="1064.5" y="1329.5">2353.58</text>
<text x="1437.5" y="1306.3">1630.06</text>
<text x="1584.5" y="1220.6">1390.06</text>
</g>
<text class="b" font-size="47" x="1144" y="290.2" textLength="826" lengthAdjust="spacing">Band corresponds to (M-O) ata A sites</text>
<text class="b" font-size="47" x="1205" y="666.7" textLength="824" lengthAdjust="spacing">Band corresponds to (M-O) ata B sites</text>
<text class="b" style="font-family:'DejaVu Serif',serif" font-size="75" transform="translate(2076.7,152.9) scale(0.865,1)">υ</text>
<text class="b" font-size="51.5" x="2121.8" y="152.9">1</text>
<text class="b" style="font-family:'DejaVu Serif',serif" font-size="75" transform="translate(2147.4,1357.9) scale(0.865,1)">υ</text>
<text class="b" font-size="49.5" x="2193.9" y="1356.8">2</text>
<text class="b" font-size="79.2" x="913" y="1570.4">Wavenumber(cm</text>
<text class="b" font-size="56" transform="translate(1496.8,1525.8) scale(1.37,1)">-</text>
<text class="b" font-size="48.5" x="1520.8" y="1528">1</text>
<text class="b" font-size="79.2" x="1541.5" y="1570.4">)</text>
<text class="b" font-size="80" transform="translate(112,983.8) rotate(-90)">Transimittance</text>
<text class="b" font-size="82" transform="translate(112,465) rotate(-90) scale(1.21,1)">(</text>
<text font-size="86" transform="translate(112,424.3) rotate(-90) scale(0.88,1)">%</text>
<text class="b" font-size="82" transform="translate(112,355.7) rotate(-90) scale(1.08,1)">)</text>
</svg></body></html>
